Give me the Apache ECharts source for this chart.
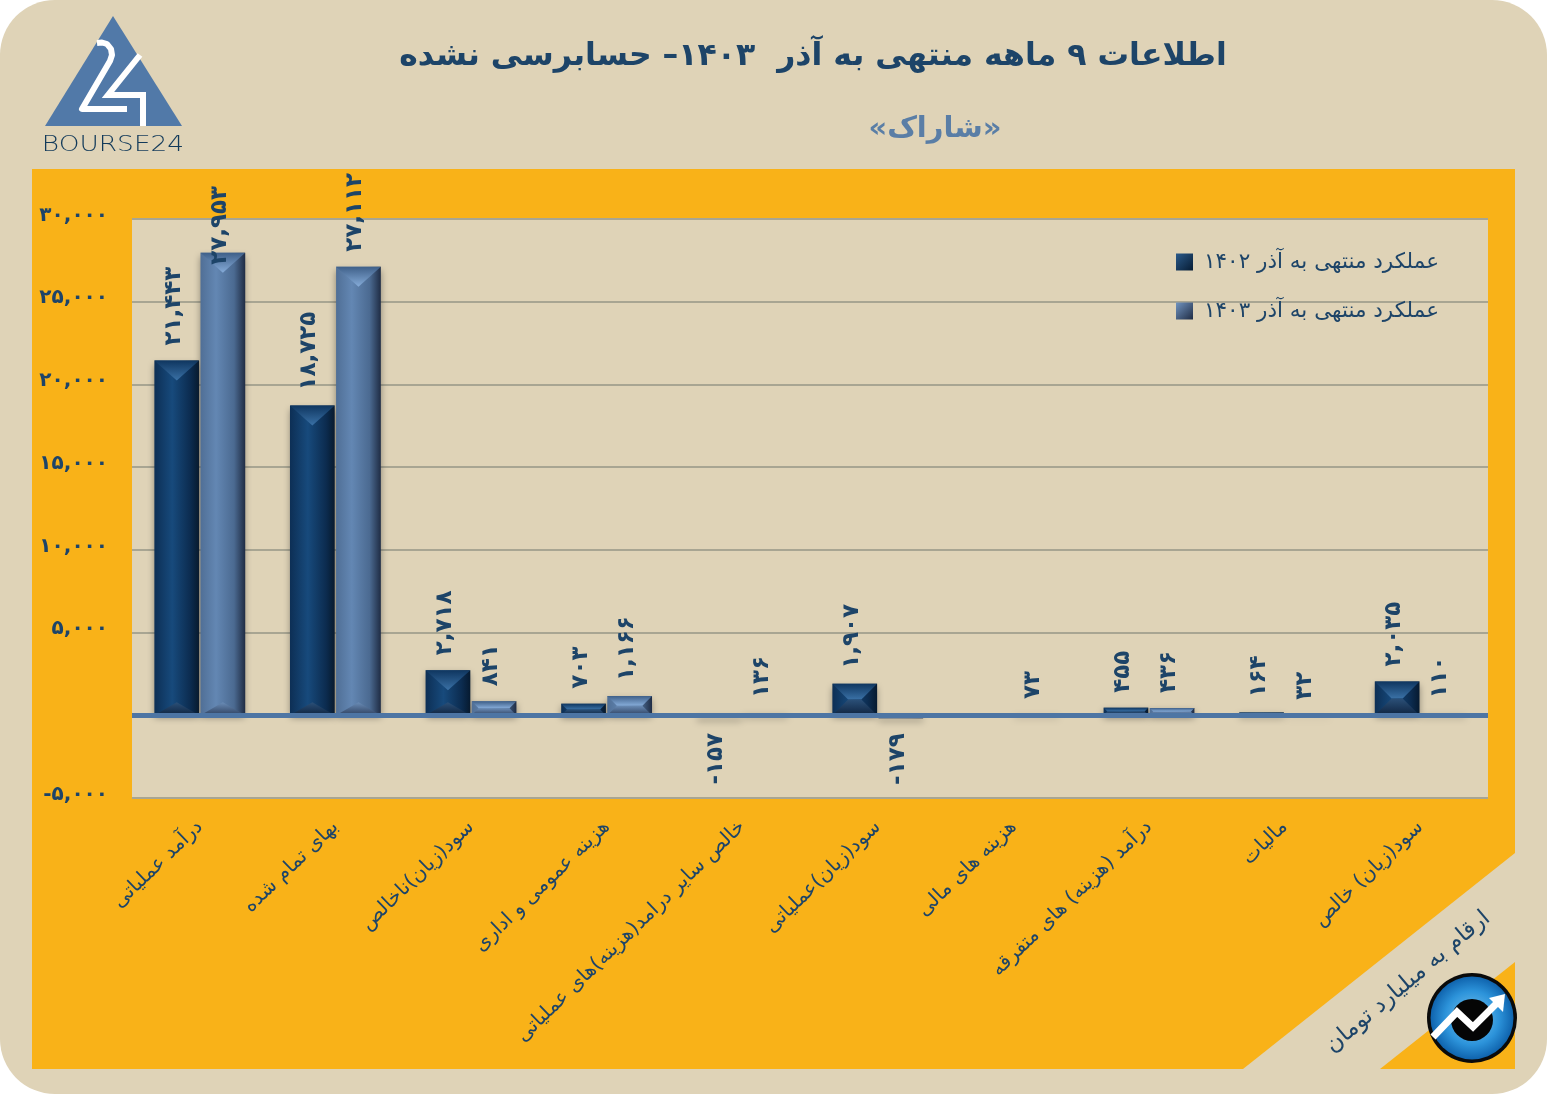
<!DOCTYPE html>
<html>
<head>
<meta charset="utf-8">
<style>
html, body { margin: 0; padding: 0; background: #ffffff; }
#chart { width: 1547px; height: 1094px; }
</style>
<script src="https://cdn.jsdelivr.net/npm/echarts@6/dist/echarts.min.js"></script>
</head>
<body>
<div id="chart"></div>
<script>
//چارت داده ها
const categories = [
    "درآمد عملیاتی",
    "بهای تمام شده",
    "سود(زیان)ناخالص",
    "هزینه عمومی و اداری",
    "خالص سایر درامد(هزینه)های عملیاتی",
    "سود(زیان)عملیاتی",
    "هزینه های مالی",
    "درآمد (هزینه) های متفرقه",
    "مالیات",
    "سود(زیان) خالص"
];
const seriesNames = ["عملکرد منتهی به آذر ۱۴۰۲", "عملکرد منتهی به آذر ۱۴۰۳"];
const values1402 = [21443, 18725, 2718, 703, -157, 1907, null, 455, 164, 2035];
const values1403 = [27953, 27112, 841, 1166, 136, -179, 73, 436, 32, 110];
const yTicks = [-5000, 0, 5000, 10000, 15000, 20000, 25000, 30000];
const yTickLabels = ["-۵,۰۰۰", "", "۵,۰۰۰", "۱۰,۰۰۰", "۱۵,۰۰۰", "۲۰,۰۰۰", "۲۵,۰۰۰", "۳۰,۰۰۰"];
const titleText = "اطلاعات ۹ ماهه منتهی به آذر  ۱۴۰۳– حسابرسی نشده";
const subTitleText = "«شاراک»";
const unitText = "ارقام به میلیارد تومان";

const FONT = '"DejaVu Sans"';
const BEIGE = "#dfd3b7";
const ORANGE = "#f9b218";
const NAVY = "#1d4468";

function gradient(x2, y2, stops) {
    return {
        type: "linear", x: 0, y: 0, x2: x2, y2: y2,
        colorStops: stops.map(function (s) { return { offset: s[0], color: s[1] }; })
    };
}

//رنگ های هر سری
const palettes = [
    {
        body: gradient(1, 0, [[0, "#0d2f55"], [0.4, "#174a7c"], [0.8, "#0c2c50"], [1, "#061a30"]]),
        top: gradient(0, 1, [[0, "#0f3660"], [1, "#3a71a6"]]),
        bottom: gradient(0, 1, [[0, "#2b5078"], [1, "#0f2440"]]),
        legend: gradient(1, 1, [[0, "#2b5a8a"], [1, "#071c33"]])
    },
    {
        body: gradient(1, 0, [[0, "#506f96"], [0.35, "#6387b3"], [0.75, "#4b6a91"], [1, "#1f2c44"]]),
        top: gradient(0, 1, [[0, "#3f6089"], [1, "#86acd9"]]),
        bottom: gradient(0, 1, [[0, "#6a8cb6"], [1, "#2e4160"]]),
        legend: gradient(1, 1, [[0, "#7194c0"], [1, "#1f2c44"]])
    }
];

//فارسی کردن اعداد
function ToPersian(value) {
    let text = Math.abs(value).toString();
    let digits = "۰۱۲۳۴۵۶۷۸۹";
    let out = "";
    for (let i = 0; i < text.length; i++) {
        if (i > 0 && (text.length - i) % 3 === 0) {
            out += ",";
        }
        out += digits[Number(text[i])];
    }
    return (value < 0 ? "-" : "") + out;
}

function DrawBar(params, api) {
    let val = api.value(1);
    if (val === null || isNaN(val)) {
        return;
    }
    let s = params.seriesIndex;
    let pal = palettes[s];
    let band = api.size([1, 0])[0];
    let w = band * 0.33;
    let c = api.coord([api.value(0), 0]);
    let cx = c[0] + (s === 0 ? -1 : 1) * band * 0.17;
    let yv = api.coord([api.value(0), val])[1];
    let yT = Math.min(c[1], yv);
    let yB = Math.max(c[1], yv);
    let h = yB - yT;
    let x0 = cx - w / 2, x1 = cx + w / 2;

    let tall = h > w;
    let inset = Math.min(w / 2, h / 2);
    let insetB = tall ? w / 2 : inset;
    let depthT = tall ? 20 : inset;
    let depthB = tall ? 13 : inset;

    let children = [{
        type: "rect",
        shape: { x: x0, y: yT, width: w, height: h },
        style: { fill: pal.body, shadowBlur: 7, shadowOffsetY: 3, shadowColor: "rgba(30,30,30,0.45)" }
    }];
    if (h > 1) {
        children.push({
            type: "polygon",
            shape: { points: [[x0, yT], [x1, yT], [x1 - inset, yT + depthT], [x0 + inset, yT + depthT]] },
            style: { fill: pal.top }
        });
        children.push({
            type: "polygon",
            shape: { points: [[x0, yB], [x1, yB], [x1 - insetB, yB - depthB], [x0 + insetB, yB - depthB]] },
            style: { fill: pal.bottom }
        });
    }

    //برچسب مقدار: بلندترین ستون روی خودش می نشیند
    let up = val >= 0;
    let gap = val > 27500 ? -12 : 15;
    children.push({
        type: "text",
        z2: 20,
        x: cx - 3,
        y: up ? yT - gap : yB + gap,
        rotation: Math.PI / 2,
        style: {
            text: ToPersian(val),
            fill: NAVY,
            font: 'bold 23px ' + FONT,
            align: up ? "left" : "right",
            verticalAlign: "middle"
        }
    });
    return { type: "group", children: children };
}

let chart = echarts.init(document.getElementById("chart"));

let option = {
    animation: false,
    backgroundColor: "#ffffff",
    textStyle: { fontFamily: FONT },
    title: [
        { text: titleText, left: 808, top: 36, textAlign: "center",
          textStyle: { color: NAVY, fontSize: 31.5, fontWeight: "bold", fontFamily: FONT } },
        { text: subTitleText, left: 930, top: 110, textAlign: "center",
          textStyle: { color: "#5a7ea6", fontSize: 29, fontWeight: "bold", fontFamily: FONT } }
    ],
    legend: {
        orient: "vertical",
        left: 1171,
        top: 246,
        itemWidth: 17,
        itemHeight: 17,
        itemGap: 27,
        icon: "rect",
        textStyle: { color: NAVY, fontSize: 21.5, fontFamily: FONT, padding: [0, 0, 16, 6] },
        data: [
            { name: seriesNames[0], itemStyle: { color: palettes[0].legend } },
            { name: seriesNames[1], itemStyle: { color: palettes[1].legend } }
        ]
    },
    grid: {
        show: true, left: 132, right: 59, top: 219, bottom: 296,
        outerBoundsMode: "none",
        backgroundColor: BEIGE, borderWidth: 0
    },
    xAxis: {
        type: "category",
        data: categories,
        z: 3,
        axisTick: { show: false },
        axisLine: { show: true, onZero: true, lineStyle: { color: "#4d75a4", width: 5, cap: "butt" } },
        axisLabel: {
            interval: 0,
            rotate: 44,
            margin: 26,
            color: NAVY,
            fontSize: 20,
            fontFamily: FONT
        }
    },
    yAxis: {
        type: "value",
        min: -5000,
        max: 30000,
        interval: 5000,
        axisLine: { show: false },
        axisTick: { show: false },
        splitLine: { lineStyle: { color: "#a8a592", width: 2 } },
        axisLabel: {
            margin: 24,
            color: NAVY,
            fontSize: 20,
            fontWeight: "bold",
            fontFamily: FONT,
            verticalAlign: "bottom",
            lineHeight: 7,
            formatter: function (value) {
                return yTickLabels[yTicks.indexOf(value)];
            }
        }
    },
    series: [
        {
            name: seriesNames[0], type: "custom", renderItem: DrawBar,
            itemStyle: { color: "#174a7c" }, encode: { x: 0, y: 1 }, clip: false,
            data: values1402.map(function (v, i) { return [i, v]; })
        },
        {
            name: seriesNames[1], type: "custom", renderItem: DrawBar,
            itemStyle: { color: "#6387b3" }, encode: { x: 0, y: 1 }, clip: false,
            data: values1403.map(function (v, i) { return [i, v]; })
        }
    ],
    graphic: [
        //پس زمینه
        { type: "rect", z: -10, shape: { x: 0, y: 0, width: 1547, height: 1094, r: 55 }, style: { fill: BEIGE } },
        { type: "polygon", z: -9, shape: { points: [[32, 169], [1515, 169], [1515, 853], [1243, 1069], [32, 1069]] }, style: { fill: ORANGE } },
        { type: "polygon", z: -9, shape: { points: [[1515, 962], [1515, 1069], [1380, 1069]] }, style: { fill: ORANGE } },
        //لوگوی بورس ۲۴
        { type: "polygon", z: 5, shape: { points: [[113, 16], [45, 126], [182, 126]] }, style: { fill: "#5179a8" } },
        { type: "polyline", z: 5, shape: { points: [[97, 43], [102, 42.5], [107, 44], [111, 49], [112, 55], [110, 61], [82, 109], [127, 109]] },
          style: { stroke: "#ffffff", lineWidth: 6, fill: "none", lineJoin: "round" } },
        { type: "polyline", z: 5, shape: { points: [[140, 55], [108, 95], [143, 95], [143, 126]] },
          style: { stroke: "#ffffff", lineWidth: 6, fill: "none" } },
        { type: "text", z: 5, x: 113, y: 145, scaleX: 1.2, originX: 0, style: {
            text: "BOURSE24", align: "center", verticalAlign: "middle",
            font: '300 22px "DejaVu Sans"', fill: "#123a5a" } },
        //یادداشت واحد
        { type: "text", z: 5, x: 1408, y: 982, rotation: 40 * Math.PI / 180, style: {
            text: unitText, align: "center", verticalAlign: "middle",
            font: '23px ' + FONT, fill: NAVY } },
        //لوگوی گوشه
        { type: "circle", z: 5, shape: { cx: 1472, cy: 1018, r: 45 }, style: { fill: "#0a0a0a" } },
        { type: "circle", z: 5, shape: { cx: 1472, cy: 1018, r: 41.5 }, style: { fill: {
            type: "radial", x: 0.5, y: 0.5, r: 0.5,
            colorStops: [{ offset: 0, color: "#7fc9f2" }, { offset: 0.65, color: "#2c93da" }, { offset: 1, color: "#0f63ad" }] } } },
        { type: "circle", z: 5, shape: { cx: 1472, cy: 1020, r: 21 }, style: { fill: "#050505" } },
        { type: "polyline", z: 6, shape: { points: [[1433, 1037], [1457, 1012], [1473, 1027], [1496, 1004]] },
          style: { stroke: "#ffffff", lineWidth: 7, fill: "none" } },
        { type: "polygon", z: 6, shape: { points: [[1505, 994], [1489, 998], [1503, 1012]] }, style: { fill: "#ffffff" } }
    ]
};

chart.setOption(option);
</script>
</body>
</html>
